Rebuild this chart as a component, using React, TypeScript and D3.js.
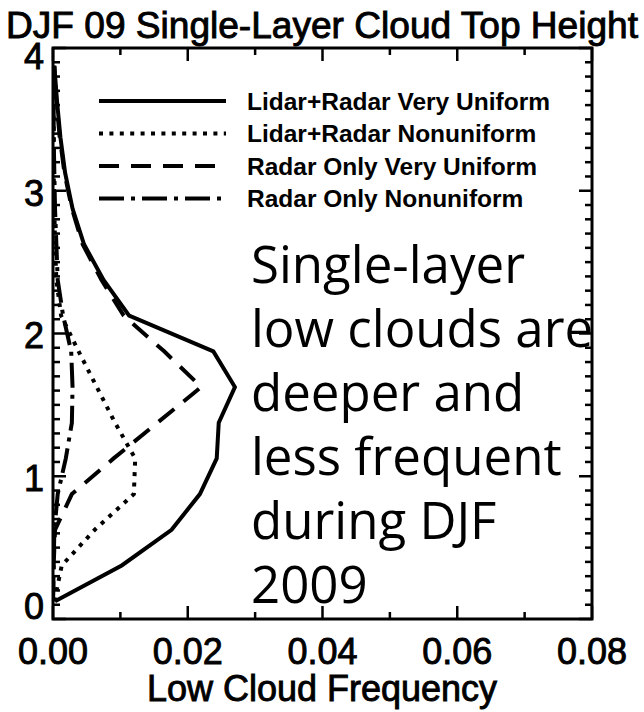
import React from "react";
import * as d3 from "d3";

// Cloud-top height bins (km), bin centres
const heights = [0.125, 0.375, 0.625, 0.875, 1.125, 1.375, 1.625, 1.875, 2.125, 2.375, 2.625, 2.875, 3.125, 3.375, 3.625, 3.875];

// Frequency of single-layer low cloud tops per bin
const lidarRadarVeryUniform = [0.0003, 0.0102, 0.0176, 0.0218, 0.0243, 0.0246, 0.027, 0.0238, 0.0113, 0.0075, 0.0046, 0.0029, 0.0018, 0.0011, 0.0006, 0.0002];
const lidarRadarNonuniform = [0.0002, 0.0013, 0.0062, 0.012, 0.0122, 0.0092, 0.0065, 0.0038, 0.0012, 0.0005, 0.0003, 0.0002, 0.0001, 0.0001, 0.0001, 0.0001];
const radarOnlyVeryUniform = [0.0, 0.0001, 0.0003, 0.0028, 0.009, 0.0155, 0.022, 0.0165, 0.0105, 0.0072, 0.0044, 0.0028, 0.0017, 0.001, 0.0005, 0.0002];
const radarOnlyNonuniform = [0.0, 0.0001, 0.0002, 0.0007, 0.0019, 0.0028, 0.0029, 0.0027, 0.0015, 0.0007, 0.0005, 0.0003, 0.0002, 0.0001, 0.0001, 0.0001];

const seriesNames = [
  "Lidar+Radar Very Uniform",
  "Lidar+Radar Nonuniform",
  "Radar Only Very Uniform",
  "Radar Only Nonuniform",
];
const seriesValues = [lidarRadarVeryUniform, lidarRadarNonuniform, radarOnlyVeryUniform, radarOnlyNonuniform];
const seriesDash = ["none", "4 6.4", "20 12", "25 7 4 7"];

const xTickLabels = ["0.00", "0.02", "0.04", "0.06", "0.08"];
const yTickLabels = ["0", "1", "2", "3", "4"];

const noteLines = ["Single-layer", "low clouds are", "deeper and", "less frequent", "during DJF", "2009"];

const W = 644;
const H = 712;
const frame = { left: 53, right: 592, top: 48, bottom: 619 };

export default function App() {
  const x = d3.scaleLinear().domain([0, 0.08]).range([frame.left, frame.right]);
  const y = d3.scaleLinear().domain([0, 4]).range([frame.bottom, frame.top]);

  const xMajor = x.ticks(4);
  const xMinor = x.ticks(8).filter((t) => !xMajor.some((m) => Math.abs(m - t) < 1e-9));
  const yMajor = y.ticks(4);
  const yMinor = y.ticks(40).filter((t) => !yMajor.some((m) => Math.abs(m - t) < 1e-9));

  const line = d3
    .line<[number, number]>()
    .x((d) => x(d[0]))
    .y((d) => y(d[1]));

  const font = "'Liberation Sans', Arial, sans-serif";
  const majLen = 13;
  const minLen = 7;
  const heavy = { stroke: "#000", strokeWidth: 0.9 };

  return (
    <svg width={W} height={H} style={{ position: "absolute", left: 0, top: 0, background: "#fff" }}>
      <defs>
        <clipPath id="plotClip">
          <rect x={frame.left} y={frame.top} width={frame.right - frame.left} height={frame.bottom - frame.top} />
        </clipPath>
      </defs>
      <rect width={W} height={H} fill="#fff" />

      <text
        x={W / 2}
        y={38}
        textAnchor="middle"
        fontFamily={font}
        fontSize={36}
        textLength={632}
        lengthAdjust="spacingAndGlyphs"
        {...heavy}
      >
        DJF 09 Single-Layer Cloud Top Height
      </text>

      {/* data curves */}
      <g clipPath="url(#plotClip)" fill="none" stroke="#000" strokeWidth={4} strokeLinejoin="miter">
        {seriesValues.map((vals, i) => (
          <path
            key={i}
            d={line(vals.map((v, k) => [v, heights[k]] as [number, number])) || ""}
            strokeDasharray={seriesDash[i] === "none" ? undefined : seriesDash[i]}
          />
        ))}
      </g>

      {/* frame */}
      <rect
        x={frame.left}
        y={frame.top}
        width={frame.right - frame.left}
        height={frame.bottom - frame.top}
        fill="none"
        stroke="#000"
        strokeWidth={3}
      />

      {/* ticks on all four sides */}
      <g stroke="#000" strokeWidth={2.5}>
        {xMajor.map((t) => (
          <g key={"xM" + t}>
            <line x1={x(t)} x2={x(t)} y1={frame.bottom} y2={frame.bottom - majLen} />
            <line x1={x(t)} x2={x(t)} y1={frame.top} y2={frame.top + majLen} />
          </g>
        ))}
        {xMinor.map((t) => (
          <g key={"xm" + t}>
            <line x1={x(t)} x2={x(t)} y1={frame.bottom} y2={frame.bottom - minLen} />
            <line x1={x(t)} x2={x(t)} y1={frame.top} y2={frame.top + minLen} />
          </g>
        ))}
        {yMajor.map((t) => (
          <g key={"yM" + t}>
            <line x1={frame.left} x2={frame.left + majLen} y1={y(t)} y2={y(t)} />
            <line x1={frame.right} x2={frame.right - majLen} y1={y(t)} y2={y(t)} />
          </g>
        ))}
        {yMinor.map((t) => (
          <g key={"ym" + t}>
            <line x1={frame.left} x2={frame.left + minLen} y1={y(t)} y2={y(t)} />
            <line x1={frame.right} x2={frame.right - minLen} y1={y(t)} y2={y(t)} />
          </g>
        ))}
      </g>

      {/* tick labels */}
      <g fontFamily={font} fontSize={36} fill="#000" {...heavy}>
        {xMajor.map((t, i) => (
          <text key={"xl" + t} x={x(t)} y={664} textAnchor="middle">
            {xTickLabels[i]}
          </text>
        ))}
        {yMajor.map((t, i) => {
          const cy = Math.min(Math.max(y(t) + 2, frame.top + 8), frame.bottom - 13);
          return (
            <text key={"yl" + t} x={frame.left - 9} y={cy} dy="0.36em" textAnchor="end">
              {yTickLabels[i]}
            </text>
          );
        })}
      </g>

      <text x={W / 2} y={701} textAnchor="middle" fontFamily={font} fontSize={36} {...heavy}>
        Low Cloud Frequency
      </text>

      {/* legend */}
      <g>
        {seriesNames.map((name, i) => {
          const ly = 101 + i * 32.5;
          return (
            <g key={name}>
              <line
                x1={99}
                x2={226}
                y1={ly}
                y2={ly}
                stroke="#000"
                strokeWidth={4}
                strokeDasharray={seriesDash[i] === "none" ? undefined : seriesDash[i]}
              />
              <text x={247} y={ly} dy="0.36em" fontFamily={font} fontSize={24.5} fontWeight="bold">
                {name}
              </text>
            </g>
          );
        })}
      </g>

      {/* annotation */}
      <g fontFamily="'Open Sans', 'Noto Sans', sans-serif" fontSize={51} fill="#000">
        {noteLines.map((s, i) => (
          <text key={s} x={251} y={283 + i * 64}>
            {s}
          </text>
        ))}
      </g>
    </svg>
  );
}
